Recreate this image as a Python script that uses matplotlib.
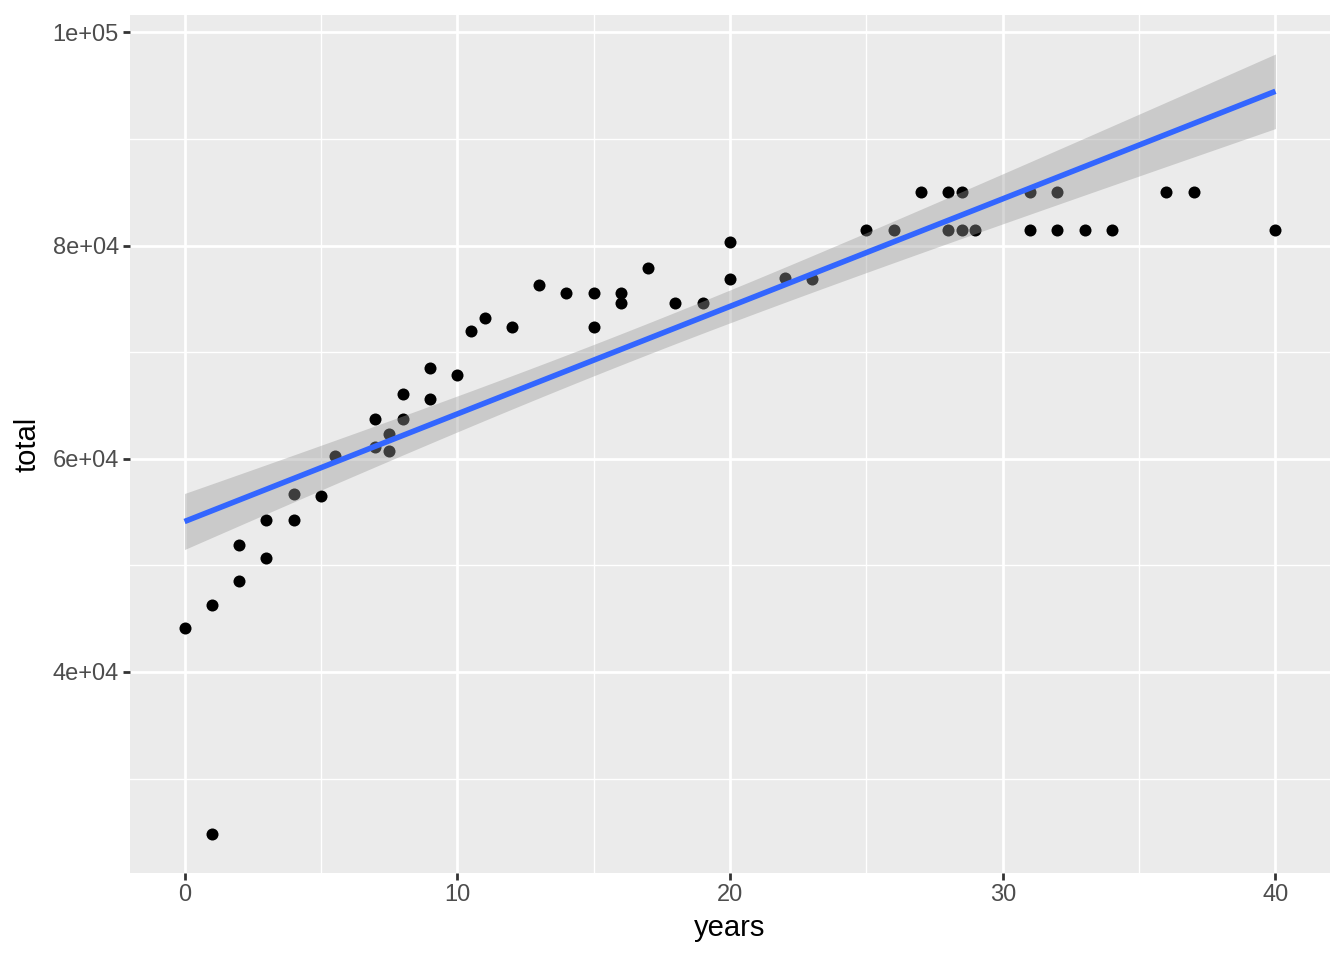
import matplotlib
matplotlib.use('Agg')
import matplotlib.pyplot as plt
import numpy as np

# data
years = [0, 1, 1, 2, 2, 3, 3, 4, 4, 5, 5.5,
         7, 7, 7.5, 7.5, 8, 8, 9, 9, 10,
         10.5, 11, 12, 13, 14, 15, 15, 16, 16, 17, 18, 19, 20, 20, 22, 23,
         25, 26, 27, 28, 28, 28.5, 28.5, 29, 31, 31, 32, 32, 33, 34,
         36, 37, 40]
total = [44100, 46300, 24800, 48500, 51900, 50700, 54300, 54300, 56700, 56550, 60300,
         63750, 61150, 62300, 60700, 66100, 63750, 68500, 65600, 67900,
         72000, 73200, 72400, 76300, 75600, 75600, 72400, 75600, 74600, 77900, 74650, 74650, 80300, 76900, 76950, 76900,
         81450, 81450, 85000, 85000, 81450, 85000, 81450, 81450, 85000, 81450, 85000, 81450, 81450, 81450,
         85000, 85000, 81450]

# points hidden under others (same years/total), guessed from the width of the fit band
dup_years = [2, 3, 4, 7, 8, 9, 10, 14, 15, 18, 20, 22, 25, 28, 32]
dup_total = [51900, 54300, 56700, 63750, 63750, 68500, 67900, 75600,
             75600, 74650, 76900, 76950, 81450, 81450, 85000]

x = np.array(years + dup_years, dtype=float)
y = np.array(total + dup_total, dtype=float)

# linear fit + 95% confidence band
coef = np.polyfit(x, y, 1)
n = len(x)
resid = y - np.polyval(coef, x)
s = np.sqrt(np.sum(resid**2) / (n - 2))
xs = np.linspace(x.min(), x.max(), 80)
ys = np.polyval(coef, xs)
se = s * np.sqrt(1 / n + (xs - x.mean())**2 / np.sum((x - x.mean())**2))
t = 1.997
lo = ys - t * se
hi = ys + t * se

fig = plt.figure(figsize=(13.44, 9.6), dpi=100)
ax = fig.add_axes([130/1344, 1 - 873/960, 1200/1344, 858/960])
ax.set_facecolor('#EBEBEB')
for sp in ax.spines.values():
    sp.set_visible(False)

ax.scatter(years, total, s=75, color='black', linewidths=0, zorder=3)
ax.fill_between(xs, lo, hi, color='#999999', alpha=0.4, linewidth=0, zorder=4)
ax.plot(xs, ys, color='#3366FF', linewidth=4, zorder=5, solid_capstyle='butt')

xr = x.max() - x.min()
ax.set_xlim(x.min() - 0.05 * xr, x.max() + 0.05 * xr)
ymin = min(y.min(), lo.min())
ymax = max(y.max(), hi.max())
yr = ymax - ymin
ax.set_ylim(ymin - 0.05 * yr, ymax + 0.05 * yr)

ax.set_xticks([0, 10, 20, 30, 40])
ax.set_xticks([5, 15, 25, 35], minor=True)
ax.set_yticks([40000, 60000, 80000, 100000])
ax.set_yticklabels(['4e+04', '6e+04', '8e+04', '1e+05'])
ax.set_yticks([30000, 50000, 70000, 90000], minor=True)
ax.grid(which='major', color='white', linewidth=2)
ax.grid(which='minor', color='white', linewidth=1)
ax.set_axisbelow(True)

ax.tick_params(which='major', length=5, width=2, color='#333333',
               labelsize=17, labelcolor='#4D4D4D', pad=3)
ax.tick_params(which='minor', length=0)
for lab in ax.get_xticklabels() + ax.get_yticklabels():
    lab.set_fontfamily('Liberation Sans')

ax.set_xlabel('years', fontsize=21, fontfamily='Liberation Sans', labelpad=6)
ax.set_ylabel('total', fontsize=21, fontfamily='Liberation Sans', labelpad=8)

fig.savefig('out.png', dpi=100)
